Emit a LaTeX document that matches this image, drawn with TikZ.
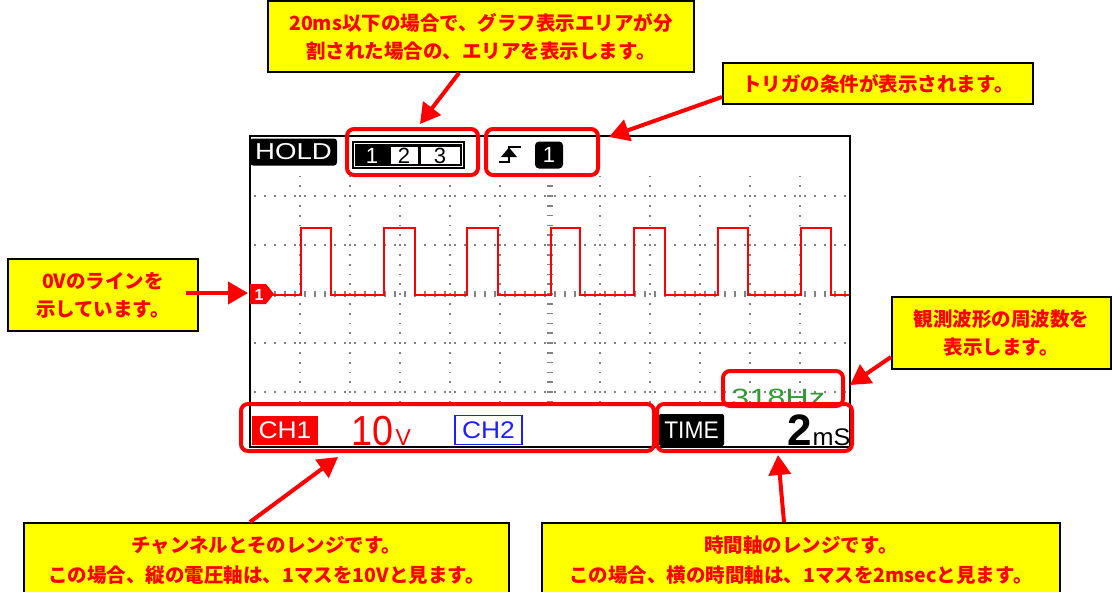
\documentclass[tikz,border=0pt]{standalone}
\usepackage{fontspec}
\usepackage{graphicx}
\newfontfamily\lcd{Liberation Sans}
\newfontfamily\jp{Noto Sans CJK JP}
\usetikzlibrary{arrows.meta}
\definecolor{callyellow}{RGB}{255,255,0}
\definecolor{callred}{RGB}{255,0,0}
\definecolor{hzgreen}{RGB}{51,153,51}
\definecolor{chblue}{RGB}{30,30,255}
\definecolor{griddot}{RGB}{130,130,130}
\begin{document}
\begin{tikzpicture}[x=1pt,y=-1pt,
 callout/.style={draw=black, line width=2pt, fill=callyellow, text=callred,
   font=\jp\bfseries\fontsize{19.5}{28}\selectfont, align=center, inner sep=0pt},
 hl/.style={draw=callred, line width=4pt, rounded corners=7pt, inner sep=0pt},
 callarrow/.style={draw=callred, line width=4pt, -{Triangle[length=20pt,width=22pt]}},
 wave/.style={draw=callred, line width=2pt},
 lcdbox/.style={inner sep=0pt},
]
\useasboundingbox (0,0) rectangle (1112,592);
\clip (0,0) rectangle (1112,592);
\fill[white] (0,0) rectangle (1112,592);

% ---- grid ----
\foreach \x in {300,350,400,450,500,600,650,700,750,800}{
  \foreach \k in {0,...,23}{
    \fill[griddot] (\x-0.9,176.4+\k*9.8-0.9) rectangle ++(1.8,1.8);
  }
}
\foreach \y in {196,245,343,392}{
  \foreach \k in {0,...,59}{
    \fill[griddot] (255+\k*10-0.9,\y-0.9) rectangle ++(1.8,1.8);
  }
}
\foreach \k in {0,...,23}{
  \fill[griddot] (547,176.4+\k*9.8-0.8) rectangle ++(6,1.6);
}
\foreach \k in {0,...,59}{
  \fill[griddot] (255+\k*10-0.8,291) rectangle ++(1.6,6);
}

% ---- screen frame ----
\draw[line width=1.5pt] (250,136) rectangle (850,447);

% ---- waveform ----
\draw[wave] (273,295) -- (301,295) -- (301,228) -- (331,228) -- (331,295)
  -- (384,295) -- (384,228) -- (415,228) -- (415,295)
  -- (467,295) -- (467,228) -- (498,228) -- (498,295)
  -- (551,295) -- (551,228) -- (580,228) -- (580,295)
  -- (634,295) -- (634,228) -- (665,228) -- (665,295)
  -- (718,295) -- (718,228) -- (748,228) -- (748,295)
  -- (801,295) -- (801,228) -- (831,228) -- (831,295) -- (849,295);

% ---- 0V marker ----
\fill[callred] (250,284) -- (266,284) -- (274,294) -- (266,304) -- (250,304) -- cycle;
\node[lcdbox, text=white, font=\lcd\bfseries\fontsize{16}{16}\selectfont] (zeromark) at (259,294.5) {1};

% ---- header ----
\node[lcdbox, fill=black, rounded corners=3pt, minimum width=87pt, minimum height=27pt,
  text=white, font=\lcd\fontsize{23}{23}\selectfont] (hold) at (293.5,152) {\scalebox{1.2}[1]{HOLD}};
\node[lcdbox, fill=black, minimum width=113pt, minimum height=28pt] (area) at (408.5,155) {};
\draw[white, line width=1pt] (354.5,143.5) rectangle (462.5,166.5);
\fill[white] (391,146.5) rectangle (418,163.5);
\fill[white] (421,146.5) rectangle (459.5,163.5);
\node[lcdbox, text=white, font=\lcd\fontsize{22}{22}\selectfont] (a1) at (372,155.5) {1};
\node[lcdbox, text=black, font=\lcd\fontsize{22}{22}\selectfont] (a2) at (404,155.5) {2};
\node[lcdbox, text=black, font=\lcd\fontsize{22}{22}\selectfont] (a3) at (440,155.5) {3};
\draw[line width=1.8pt] (499,162) -- (509,162) -- (509,147) -- (521,147);
\fill (501,157) -- (509,147.5) -- (517,157) -- cycle;
\node[lcdbox, fill=black, rounded corners=4pt, minimum width=28pt, minimum height=27pt,
  text=white, font=\lcd\fontsize{22}{22}\selectfont] (trig) at (549,155) {1};

% ---- frequency ----
\node[lcdbox, anchor=base west, text=hzgreen, font=\lcd\fontsize{25}{25}\selectfont] (hz) at (731,406) {\scalebox{1.3}[1]{318Hz}};

% ---- status bar ----
\node[lcdbox, fill=callred, minimum width=66pt, minimum height=29pt,
  text=white, font=\lcd\fontsize{24}{24}\selectfont] (ch1) at (285,430) {\scalebox{1.1}[1]{CH1}};
\node[lcdbox, anchor=base west, text=callred, font=\lcd\fontsize{42}{42}\selectfont] (volt) at (351,445) {\scalebox{0.9}[1]{10}};
\node[lcdbox, anchor=base west, text=callred, font=\lcd\fontsize{23}{23}\selectfont] (voltu) at ([xshift=2pt]volt.base east) {V};
\node[lcdbox, draw=chblue, line width=1.2pt, minimum width=67pt, minimum height=29pt,
  text=chblue, font=\lcd\fontsize{24}{24}\selectfont] (ch2) at (488.5,430) {\scalebox{1.1}[1]{CH2}};
\node[lcdbox, fill=black, rounded corners=2pt, minimum width=65pt, minimum height=32pt,
  text=white, font=\lcd\fontsize{24}{24}\selectfont] (time) at (691.5,430) {\scalebox{0.95}[1]{TIME}};
\node[lcdbox, anchor=base east, text=black, font=\lcd\bfseries\fontsize{44}{44}\selectfont] (tdiv) at (812,445) {2};
\node[lcdbox, anchor=base west, text=black, font=\lcd\fontsize{24}{24}\selectfont] (tunit) at (812.5,445) {\scalebox{1.05}[1]{mS}};

% ---- red highlight boxes ----
\node[hl, minimum width=131pt, minimum height=46pt] (hlarea) at (412.5,152) {};
\node[hl, minimum width=112pt, minimum height=46pt] (hltrig) at (542,152) {};
\node[hl, minimum width=413pt, minimum height=47pt] (hlch) at (447.5,427.5) {};
\node[hl, minimum width=195pt, minimum height=47pt] (hltime) at (754.5,427.5) {};
\node[hl, minimum width=120pt, minimum height=35pt] (hlhz) at (783,388.5) {};

% ---- callouts ----
\node[callout, minimum width=426pt, minimum height=71pt] (cA) at (481,36.5)
  {20ms以下の場合で、グラフ表示エリアが分\\割された場合の、エリアを表示します。};
\node[callout, minimum width=310pt, minimum height=41pt] (cB) at (878,83.5)
  {トリガの条件が表示されます。};
\node[callout, minimum width=190pt, minimum height=72pt] (cC) at (103,295)
  {0Vのラインを\\示しています。};
\node[callout, minimum width=219pt, minimum height=72pt] (cD) at (1001.5,333)
  {観測波形の周波数を\\表示します。};
\node[callout, minimum width=485pt, minimum height=74pt] (cE) at (266.5,560)
  {チャンネルとそのレンジです。\\[2pt]この場合、縦の電圧軸は、1マスを10Vと見ます。};
\node[callout, minimum width=518pt, minimum height=74pt] (cF) at (801,560)
  {時間軸のレンジです。\\[2pt]この場合、横の時間軸は、1マスを2msecと見ます。};

% ---- arrows ----
\coordinate (tA) at (420,124);
\coordinate (tB) at (609,137);
\coordinate (tC) at (248,293);
\coordinate (tD) at (850,385);
\coordinate (tE) at (338,457);
\coordinate (tF) at (778,455);
\draw[callarrow] ([xshift=-22pt]cA.south) -- (tA);
\draw[callarrow] ([yshift=-13.5pt]cB.west) -- (tB);
\draw[callarrow] ([xshift=-13pt,yshift=2pt]cC.east) -- (tC);
\draw[callarrow] ([yshift=-24pt]cD.west) -- (tD);
\draw[callarrow] ([xshift=-16.5pt]cE.north) -- (tE);
\draw[callarrow] ([xshift=-17pt]cF.north) -- (tF);
\end{tikzpicture}
\end{document}
